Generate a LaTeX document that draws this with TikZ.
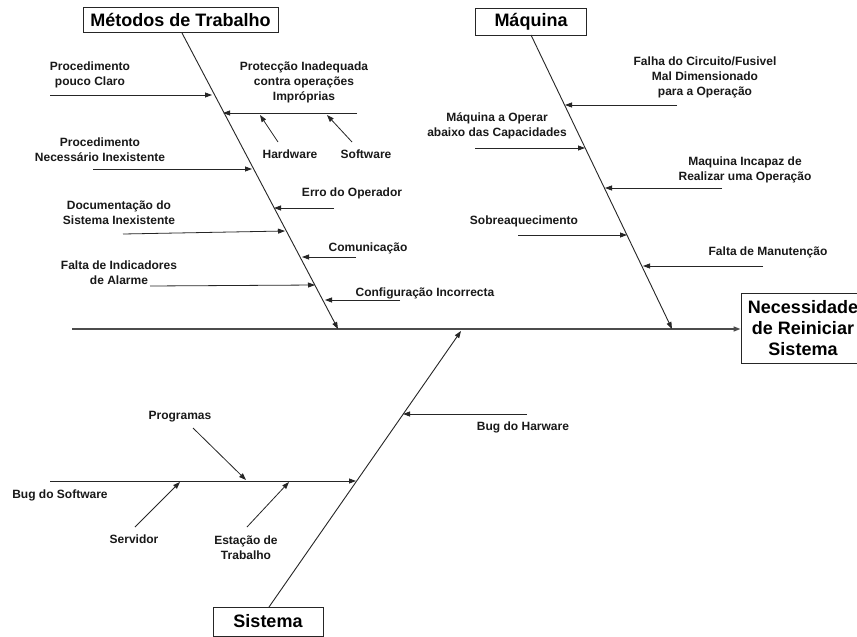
\documentclass[tikz,border=0pt]{standalone}
\usepackage{fontspec}
\setmainfont{Liberation Sans}
\usetikzlibrary{arrows.meta}
\tikzset{
  lbl/.style={font=\bfseries\fontsize{12}{15}\selectfont, align=center, inner sep=0pt, text=black!90},
  cat/.style={draw=black!85, line width=0.9pt, font=\bfseries\fontsize{18}{21}\selectfont, inner sep=0pt, align=center, fill=white},
  arr/.style={draw=black!85, line width=0.8pt, -{Triangle[length=7pt,width=5pt]}},
  bone/.style={draw=black!85, line width=0.9pt, -{Triangle[length=7pt,width=5pt]}},
  spine/.style={draw=black!70, line width=1.4pt, -{Triangle[length=7pt,width=5pt]}}
}
\begin{document}
\begin{tikzpicture}[x=1pt,y=-1pt]
\clip (0,0) rectangle (857,637);
\fill[white] (0,0) rectangle (857,637);

% category boxes
\node[cat, minimum width=195pt, minimum height=25pt] (metodos) at (180.5,19.5) {Métodos de Trabalho};
\node[cat, minimum width=111pt, minimum height=27pt] (maquina) at (531,21.5) {Máquina};
\node[cat, minimum width=110pt, minimum height=29pt] (sistema) at (268,621.5) {Sistema};
\node[cat, minimum width=124pt, minimum height=70pt] (efeito) at (803,328) {Necessidade\\de Reiniciar\\Sistema};

% spine
\coordinate (sp0) at (72,329);
\draw[spine] (sp0) -- (efeito.west |- sp0);

% bones
\coordinate (mA) at (182,33);
\coordinate (mB) at (338,329);
\coordinate (qA) at (531,35);
\coordinate (qB) at (672,329);
\coordinate (sA) at (269,607);
\coordinate (sB) at (461,331);
\draw[bone] (mA) -- (mB);
\draw[bone] (qA) -- (qB);
\draw[bone] (sA) -- (sB);

% ---- Metodos de Trabalho ----
\node[lbl] (l1) at (90,75) {Procedimento\\pouco Claro};
\coordinate (a1s) at (50,95); \coordinate (a1e) at (212,95);
\draw[arr] (a1s) -- (a1e);

\node[lbl] (l2) at (304,82) {Protecção Inadequada\\contra operações\\Impróprias};
\coordinate (a2s) at (357,113); \coordinate (a2e) at (223,113);
\draw[arr] (a2s) -- (a2e);
\node[lbl] (hw) at (290,154) {Hardware};
\node[lbl] (sw) at (366,154) {Software};
\coordinate (hws) at (278,142); \coordinate (hwe) at (260,115);
\coordinate (sws) at (352,142); \coordinate (swe) at (327,115);
\draw[arr] (hws) -- (hwe);
\draw[arr] (sws) -- (swe);

\node[lbl] (l3) at (100,150) {Procedimento\\Necessário Inexistente};
\coordinate (a3s) at (93,169); \coordinate (a3e) at (252,169);
\draw[arr] (a3s) -- (a3e);

\node[lbl] (l4) at (352,193) {Erro do Operador};
\coordinate (a4s) at (334,208); \coordinate (a4e) at (274,208);
\draw[arr] (a4s) -- (a4e);

\node[lbl] (l5) at (119,212.5) {Documentação do\\Sistema Inexistente};
\coordinate (a5s) at (123,234); \coordinate (a5e) at (285,231);
\draw[arr] (a5s) -- (a5e);

\node[lbl] (l6) at (368,248) {Comunicação};
\coordinate (a6s) at (356,257); \coordinate (a6e) at (302,257);
\draw[arr] (a6s) -- (a6e);

\node[lbl] (l7) at (119,272.5) {Falta de Indicadores\\de Alarme};
\coordinate (a7s) at (150,286); \coordinate (a7e) at (315,285);
\draw[arr] (a7s) -- (a7e);

\node[lbl] (l8) at (425,293) {Configuração Incorrecta};
\coordinate (a8s) at (400,300); \coordinate (a8e) at (325,300);
\draw[arr] (a8s) -- (a8e);

% ---- Maquina ----
\node[lbl] (q1) at (705,77) {Falha do Circuito/Fusivel\\Mal Dimensionado\\para a Operação};
\coordinate (b1s) at (677,105); \coordinate (b1e) at (565,105);
\draw[arr] (b1s) -- (b1e);

\node[lbl] (q2) at (497,126) {Máquina a Operar\\abaixo das Capacidades};
\coordinate (b2s) at (475,148); \coordinate (b2e) at (585,148);
\draw[arr] (b2s) -- (b2e);

\node[lbl] (q3) at (745,170) {Maquina Incapaz de\\Realizar uma Operação};
\coordinate (b3s) at (722,188); \coordinate (b3e) at (605,188);
\draw[arr] (b3s) -- (b3e);

\node[lbl] (q4) at (524,221) {Sobreaquecimento};
\coordinate (b4s) at (518,235); \coordinate (b4e) at (627,235);
\draw[arr] (b4s) -- (b4e);

\node[lbl] (q5) at (768,252) {Falta de Manutenção};
\coordinate (b5s) at (763,266); \coordinate (b5e) at (643,266);
\draw[arr] (b5s) -- (b5e);

% ---- Sistema ----
\node[lbl] (s1) at (523,427) {Bug do Harware};
\coordinate (c1s) at (527,414); \coordinate (c1e) at (403,414);
\draw[arr] (c1s) -- (c1e);

\node[lbl] (s2) at (60,495) {Bug do Software};
\coordinate (c2s) at (50,481); \coordinate (c2e) at (356,481);
\draw[arr] (c2s) -- (c2e);

\node[lbl] (s3) at (180,417) {Programas};
\coordinate (c3s) at (193,428); \coordinate (c3e) at (246,480);
\draw[arr] (c3s) -- (c3e);

\node[lbl] (s4) at (134,539) {Servidor};
\coordinate (c4s) at (135,527); \coordinate (c4e) at (180,482);
\draw[arr] (c4s) -- (c4e);

\node[lbl] (s5) at (246,548) {Estação de\\Trabalho};
\coordinate (c5s) at (247,527); \coordinate (c5e) at (289,482);
\draw[arr] (c5s) -- (c5e);
\end{tikzpicture}
\end{document}
